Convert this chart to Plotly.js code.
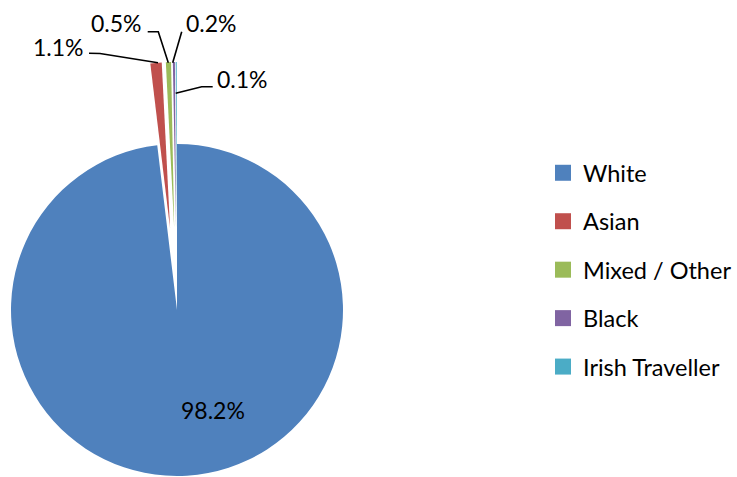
<!DOCTYPE html>
<html>
<head>
<meta charset="utf-8">
<script src="https://cdn.plot.ly/plotly-3.0.1.min.js"></script>
<style>
html, body { margin:0; padding:0; overflow:hidden; background:#fff; width:737px; height:477px; }
#chart { position:absolute; left:-71px; top:0; width:850px; height:558px; }
</style>
</head>
<body>
<div id="chart"></div>
<script>
// Data
const categories = ["White", "Asian", "Mixed / Other", "Black", "Irish Traveller"];
const shares = [98.2, 1.1, 0.5, 0.2, 0.1];
const colors = ["#4F81BD", "#C0504D", "#9BBB59", "#8064A2", "#4BACC6"];

const FONT = "Lato, 'Open Sans', sans-serif";
const W = 850, H = 558, TOP = 62, SHIFT = 71;

// window pixel -> paper coordinates (used for label placement only)
const px = (x) => (x + SHIFT) / W;
const py = (y) => (H - y) / (H - TOP);

const pie = {
  type: 'pie',
  labels: categories,
  values: shares,
  sort: false,
  direction: 'clockwise',
  rotation: 0,
  pull: [0, 0.494, 0.494, 0.494, 0.494],
  marker: { colors: colors, line: { width: 0 } },
  textinfo: 'none',
  showlegend: false,
  hoverinfo: 'label+value',
  domain: { x: [0, 496 / W], y: [0, 1] }
};

// legend entries (one group each so the spacing can match)
const legendTraces = categories.map((c, i) => ({
  type: 'scatter', x: [null], y: [null], mode: 'markers',
  name: c, legendgroup: c,
  marker: { symbol: 'square', size: 16, color: colors[i] },
  hoverinfo: 'skip', showlegend: true
}));

// data label placement (text centres, in window pixels) and leader lines
const labelPos = [[213, 410], [58, 47], [116, 23.5], [211.5, 23.5], [242.5, 79]];
const leaders = [
  null,
  [[89, 53.3], [100, 53.5], [158, 62.7]],
  [[147.7, 31.7], [158.3, 31.7], [168.3, 62.7]],
  [[181.7, 31.7], [172.7, 62.7]],
  [[212.7, 86.7], [201.7, 86.7], [175.7, 93.3]]
];

const annotations = shares.map((v, i) => ({
  xref: 'paper', yref: 'paper',
  x: px(labelPos[i][0]), y: py(labelPos[i][1]),
  xanchor: 'center', yanchor: 'middle',
  text: v.toFixed(1) + '%', showarrow: false,
  font: { family: FONT, size: 23, color: '#000' }
}));

const shapes = leaders.filter(l => l).map(pts => ({
  type: 'path', xref: 'paper', yref: 'paper',
  path: pts.map((p, k) => (k ? 'L' : 'M') + px(p[0]) + ',' + py(p[1])).join(' '),
  line: { color: '#000', width: 1.6 }
}));

const layout = {
  width: W, height: H,
  margin: { l: 0, r: 0, t: TOP, b: 0 },
  paper_bgcolor: '#fff', plot_bgcolor: 'rgba(0,0,0,0)',
  font: { family: FONT, size: 24, color: '#000' },
  xaxis: { visible: false }, yaxis: { visible: false },
  showlegend: true,
  annotations: annotations,
  shapes: shapes,
  legend: {
    x: (543 + SHIFT) / W, xanchor: 'left',
    y: py(270), yanchor: 'middle',
    font: { family: FONT, size: 23.5, color: '#000' },
    tracegroupgap: 14.9, traceorder: 'grouped',
    bgcolor: 'rgba(0,0,0,0)'
  }
};

Plotly.newPlot('chart', [pie, ...legendTraces], layout, { displayModeBar: false, staticPlot: true });
</script>
</body>
</html>
